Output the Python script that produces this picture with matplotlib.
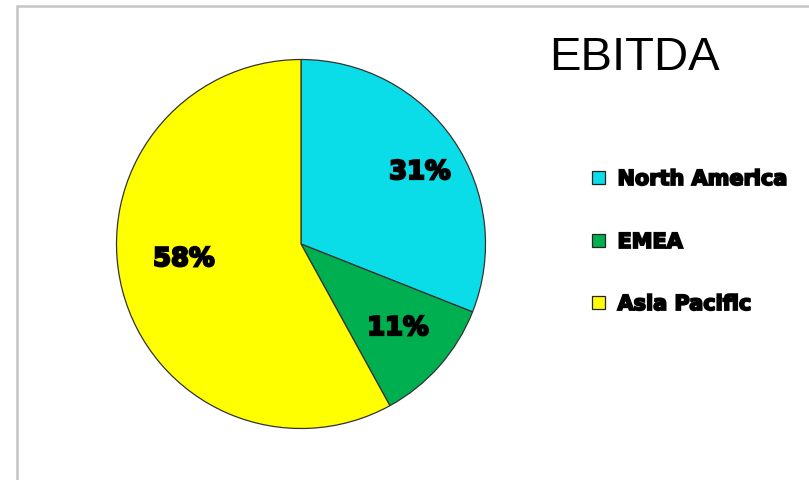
import matplotlib
matplotlib.use('Agg')
import matplotlib.pyplot as plt
import matplotlib.patheffects as pe
from matplotlib.patches import Rectangle

# Data
regions = ['North America', 'EMEA', 'Asia Pacific']
shares = [31, 11, 58]
colors = ['#0BDDE8', '#00B050', '#FFFF00']

W, H = 809, 480
fig = plt.figure(figsize=(W / 100, H / 100), dpi=100)
fig.patch.set_facecolor('white')

# Outer chart border (left and top visible)
fig.patches.append(Rectangle((16.5 / W, -0.1), 1.2, (H - 5.5) / H + 0.1,
                             transform=fig.transFigure, fill=False,
                             edgecolor='#c4c4c4', linewidth=1.8))

# Pie axes: centre (301, 244), radius ~184.5 px
cx, cy, r = 301, 244, 184.5
ax = fig.add_axes([(cx - r) / W, (H - cy - r) / H, 2 * r / W, 2 * r / H])

wedges, texts, autotexts = ax.pie(
    shares, colors=colors, startangle=90, counterclock=False, radius=1,
    autopct='%d%%', pctdistance=0.6,
    wedgeprops=dict(edgecolor='#333333', linewidth=0.9))
ax.set_xlim(-1, 1)
ax.set_ylim(-1, 1)
ax.set_aspect('equal')
ax.axis('off')


def heavy(lw):
    # filled + stroked glyph outlines, no separate raster text (avoids a ghost offset)
    return [pe.PathPatchEffect(facecolor='black', edgecolor='black', linewidth=lw)]


label_pos = [(420, 172), (398, 328), (184, 259)]
for t, (px, py) in zip(autotexts, label_pos):
    t.set_position(((px - cx) / r, (cy - py) / r))
    t.set_fontsize(18.5)
    t.set_fontweight('bold')
    t.set_family('DejaVu Sans')
    t.set_color('black')
    t.set_path_effects(heavy(1.6))

# Title
fig.text(634 / W, 1 - 58 / H, 'EBITDA', ha='center', va='center',
         fontsize=34, family='Liberation Sans', color='black')

# Legend (drawn by hand so the heavy text renders cleanly)
row_y = [177, 240, 302]
for name, c, y in zip(regions, colors, row_y):
    fig.patches.append(Rectangle((592 / W, 1 - (y + 6.5) / H), 13 / W, 13 / H,
                                 transform=fig.transFigure, facecolor=c,
                                 edgecolor='#222222', linewidth=0.9))
    fig.text(617.5 / W, 1 - y / H, name, ha='left', va='center_baseline',
             fontsize=15, fontweight='bold', family='DejaVu Sans',
             color='black', path_effects=heavy(1.3))

fig.savefig('out.png', dpi=100)
